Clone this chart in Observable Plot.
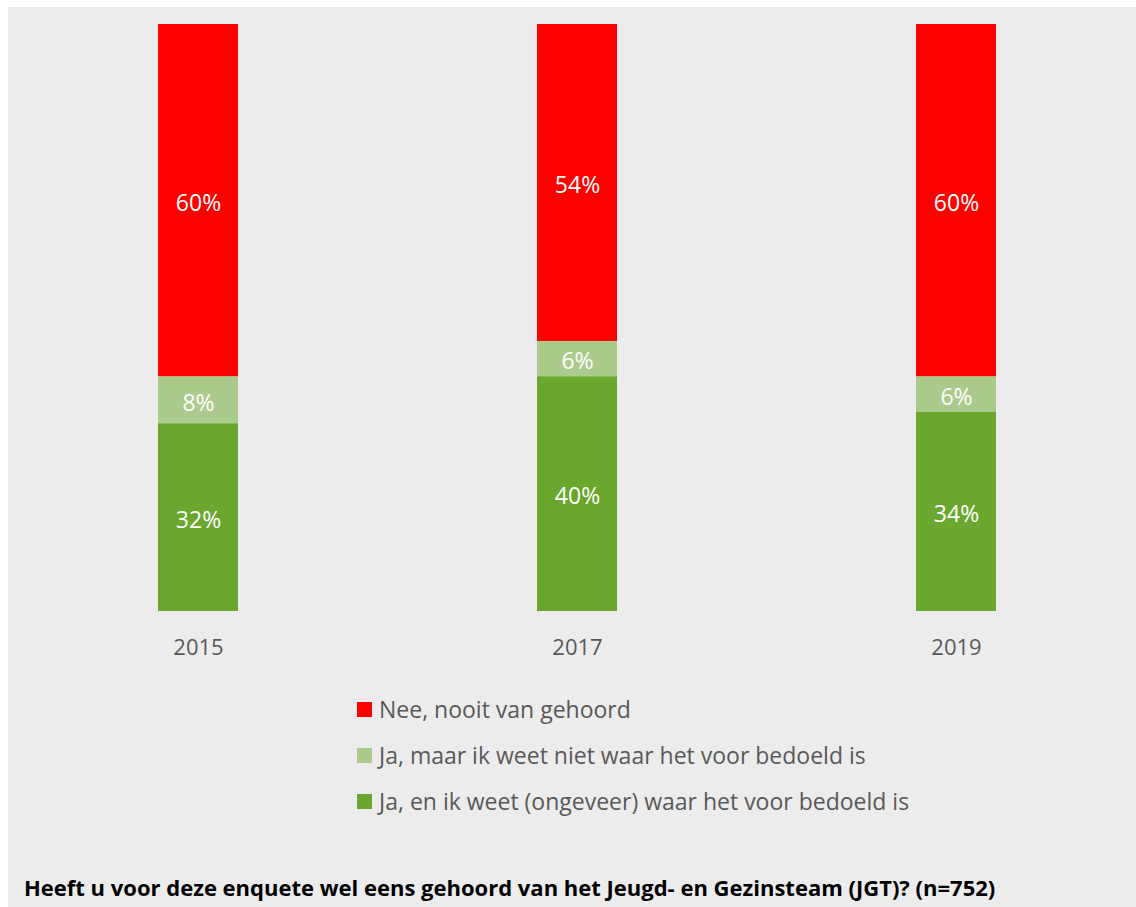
<!DOCTYPE html>
<html>
<head>
<meta charset="utf-8">
<script src="https://cdn.jsdelivr.net/npm/d3@7"></script>
<script src="https://cdn.jsdelivr.net/npm/@observablehq/plot@0.6"></script>
<style>
  html, body { margin: 0; padding: 0; background: #ffffff; }
  #panel { position: absolute; left: 8px; top: 7px; width: 1128px; height: 900px; background: #ececec; font-family: "Open Sans", "Noto Sans", sans-serif; }
  #legend { position: absolute; left: 349px; top: 679px; }
  .row { display: flex; align-items: center; height: 46px; font-size: 23px; color: #595959; }
  .sw { width: 15px; height: 15px; margin-right: 7px; }
  #caption { position: absolute; left: 16px; top: 865px; font-size: 22px; font-weight: 700; color: #000; white-space: nowrap; letter-spacing: 0px; }
</style>
</head>
<body>
<div id="panel">
  <div id="chart"></div>
  <div id="legend"></div>
  <div id="caption"></div>
</div>
<script>
const years = ["2015", "2017", "2019"];
const categories = [
  "Ja, en ik weet (ongeveer) waar het voor bedoeld is",
  "Ja, maar ik weet niet waar het voor bedoeld is",
  "Nee, nooit van gehoord"
];
const colors = ["#6ba72f", "#abcb8d", "#ff0000"];
const valuesKnowsPurpose = [32, 40, 34];
const valuesHeardOnly = [8, 6, 6];
const valuesNeverHeard = [60, 54, 60];
const legendOrder = [2, 1, 0];
const captionText = "Heeft u voor deze enquete wel eens gehoord van het Jeugd- en Gezinsteam (JGT)? (n=752)";

const series = [valuesKnowsPurpose, valuesHeardOnly, valuesNeverHeard];
const data = [];
categories.forEach((c, ci) => {
  years.forEach((y, yi) => data.push({year: y, cat: c, value: series[ci][yi]}));
});

const font = "'Open Sans', 'Noto Sans', sans-serif";
const plot = Plot.plot({
  width: 1128,
  height: 660,
  marginLeft: 150,
  marginRight: 140,
  marginTop: 17,
  marginBottom: 56,
  style: {background: "transparent", fontFamily: font, fontSize: "22px", color: "#595959"},
  x: {domain: years, paddingInner: 0.789, paddingOuter: 0, label: null, tickSize: 0, tickPadding: 28},
  y: {domain: [0, 100], axis: null},
  color: {domain: categories, range: colors},
  marks: [
    Plot.barY(data, Plot.stackY({x: "year", y: "value", fill: "cat", order: null})),
    Plot.text(data, Plot.stackY({x: "year", y: "value", order: null, text: d => d.value + "%", fill: "white", fontSize: 23, dy: 3}))
  ]
});
document.getElementById("chart").appendChild(plot);

const legend = document.getElementById("legend");
legendOrder.forEach(i => {
  const row = document.createElement("div");
  row.className = "row";
  const sw = document.createElement("div");
  sw.className = "sw";
  sw.style.background = colors[i];
  const t = document.createElement("span");
  t.textContent = categories[i];
  row.appendChild(sw);
  row.appendChild(t);
  legend.appendChild(row);
});
document.getElementById("caption").textContent = captionText;
</script>
</body>
</html>
